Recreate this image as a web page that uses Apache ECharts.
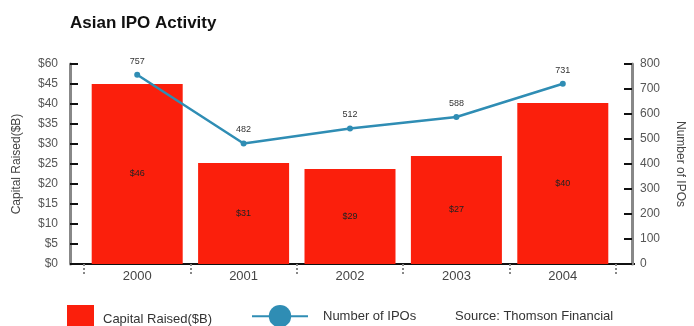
<!DOCTYPE html>
<html><head><meta charset="utf-8">
<script src="https://cdn.jsdelivr.net/npm/echarts@6/dist/echarts.min.js"></script>
<style>html,body{margin:0;padding:0;background:#fff}#c{width:694px;height:326px}</style>
</head><body><div id="c"></div>
<script>
const years = ["2000","2001","2002","2003","2004"];
const capitalRaised = [54, 30.3, 28.5, 32.4, 48.3];
const capitalLabels = ["$46","$31","$29","$27","$40"];
const ipoCount = [757, 482, 542, 588, 721];
const ipoLabels = ["757","482","512","588","731"];
const leftTickLabels = ["$0","$5","$10","$15","$20","$25","$30","$35","$40","$45","$60"];
const rightTickLabels = ["0","100","200","300","400","500","600","700","800"];

const FONT = "'Liberation Sans Narrow','Liberation Sans',sans-serif";
const chart = echarts.init(document.getElementById('c'));
chart.setOption({
  animation:false,
  textStyle:{fontFamily:FONT},
  title:{text:"Asian IPO Activity",left:65,top:10,textStyle:{fontSize:17,fontWeight:900,color:'#111',fontFamily:"'Liberation Sans',sans-serif"}},
  grid:{left:84,right:75,top:64,bottom:62},
  legend:[
    {data:["Capital Raised($B)"],left:62,top:300,itemWidth:27,itemHeight:28,icon:'rect',itemGap:0,
     textStyle:{fontSize:13,color:'#333',fontFamily:FONT,padding:[4,0,0,4]}},
    {data:["Number of IPOs"],left:246,top:300,itemWidth:56,itemHeight:28,
     textStyle:{fontSize:13,color:'#333',fontFamily:FONT,padding:[4,0,0,10]}}
  ],
  graphic:[
    {type:'text',left:455,top:310,style:{text:"Source: Thomson Financial",font:"13px "+FONT,fill:'#333'}},
    {type:'line',shape:{x1:70,y1:264,x2:635,y2:264},style:{stroke:'#111',lineWidth:2}}
  ],
  xAxis:{type:'category',data:years,
    axisLine:{show:true,lineStyle:{color:'#111',width:2}},
    axisTick:{show:true,interval:0,inside:false,length:12,lineStyle:{color:'#888',type:'dotted',width:2}},
    axisLabel:{fontSize:13,color:'#444',margin:6,fontFamily:FONT}},
  yAxis:[
    {type:'value',min:0,max:60,interval:6,position:'left',offset:14,
     name:"Capital Raised($B)",nameLocation:'middle',nameGap:47,nameRotate:90,
     nameTextStyle:{fontSize:12,color:'#444',fontFamily:FONT},
     axisLine:{show:true,lineStyle:{color:'#888',width:3}},
     axisTick:{show:true,inside:true,length:8,lineStyle:{color:'#111',width:2}},
     axisLabel:{fontSize:12,color:'#555',margin:12,fontFamily:FONT,
       formatter:(v)=>leftTickLabels[Math.round(v/6)]},
     splitLine:{show:false}},
    {type:'value',min:0,max:800,interval:100,position:'right',offset:16,
     name:"Number of IPOs",nameLocation:'middle',nameGap:42,nameRotate:-90,
     nameTextStyle:{fontSize:12,color:'#444',fontFamily:FONT},
     axisLine:{show:true,lineStyle:{color:'#888',width:3}},
     axisTick:{show:true,inside:true,length:8,lineStyle:{color:'#111',width:2}},
     axisLabel:{fontSize:12,color:'#555',margin:8,fontFamily:FONT,
       formatter:(v)=>rightTickLabels[Math.round(v/100)]},
     splitLine:{show:false}}
  ],
  series:[
    {name:"Capital Raised($B)",type:'bar',yAxisIndex:0,data:capitalRaised,barWidth:91,
     itemStyle:{color:'#fb1f0c'},
     label:{show:true,position:'inside',fontSize:9,color:'#222',
       formatter:(p)=>capitalLabels[p.dataIndex]}},
    {name:"Number of IPOs",type:'line',yAxisIndex:1,data:ipoCount,
     symbol:'circle',symbolSize:6,
     lineStyle:{color:'#2f8db4',width:2.5},itemStyle:{color:'#2f8db4'},
     label:{show:true,position:'top',distance:6,fontSize:9,color:'#333',
       formatter:(p)=>ipoLabels[p.dataIndex]}}
  ]
});
</script></body></html>
